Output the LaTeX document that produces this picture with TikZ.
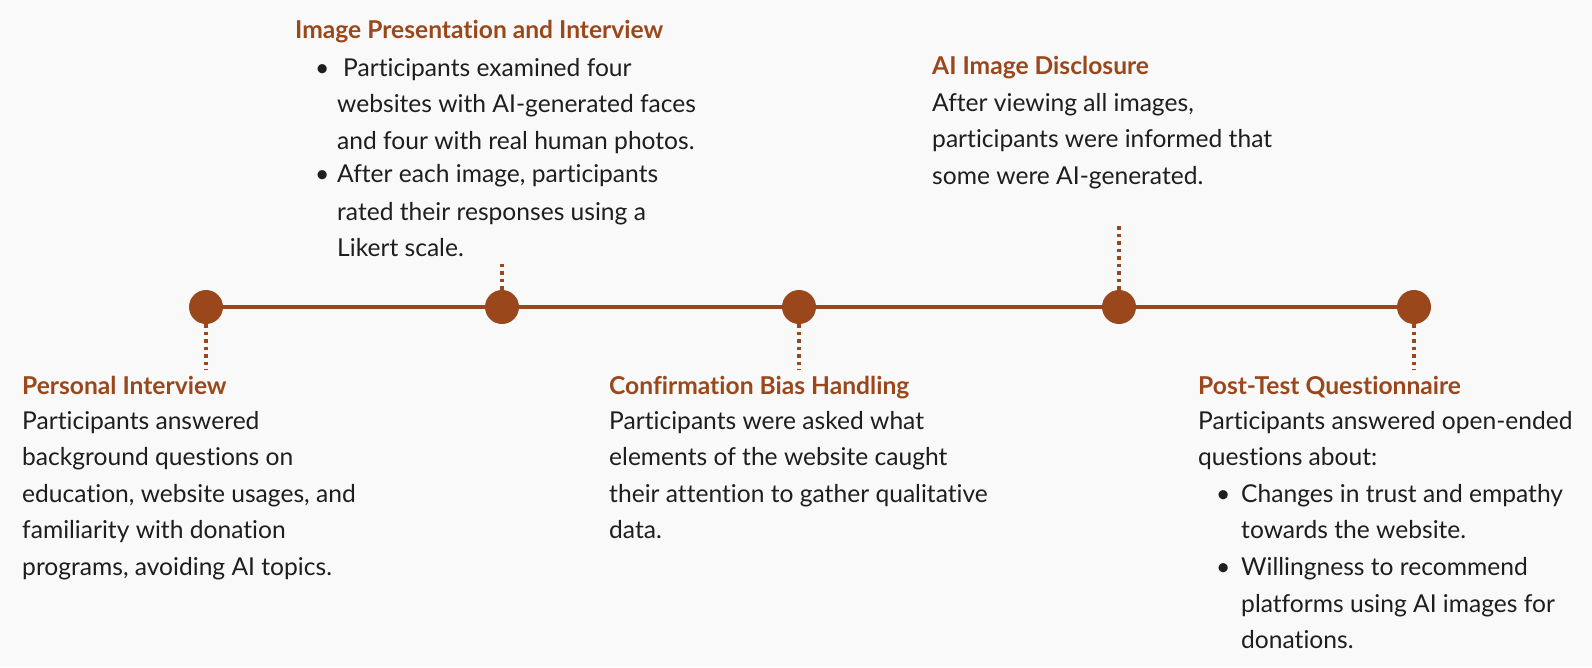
\documentclass[tikz,border=0pt]{standalone}
\usepackage{fontspec}
\setmainfont{Lato}[Ligatures=NoCommon]
\definecolor{brn}{HTML}{9A481B}
\definecolor{ink}{HTML}{1E1E1E}
\definecolor{bg}{HTML}{F9F9F9}
\tikzset{
  ttl/.style={anchor=base west, inner sep=0pt, font=\bfseries\fontsize{24.6}{28}\selectfont, text=brn},
  txt/.style={anchor=base west, inner sep=0pt, font=\fontsize{24.6}{28}\selectfont, text=ink},
  dot/.style={circle, fill=brn, minimum size=34pt, inner sep=0pt},
  tline/.style={draw=brn, line width=4pt},
  dotline/.style={draw=brn, line width=3.5pt, dash pattern=on 3.5pt off 4pt},
}
\begin{document}
\begin{tikzpicture}[x=1pt,y=-1pt]
\fill[bg] (0,0) rectangle (1592,667);
\useasboundingbox (0,0) rectangle (1592,667);
% timeline
\node[dot] (d1) at (206,307) {};
\node[dot] (d2) at (502,307) {};
\node[dot] (d3) at (799,307) {};
\node[dot] (d4) at (1119,307) {};
\node[dot] (d5) at (1414,307) {};
\draw[tline] (d1) -- (d2) -- (d3) -- (d4) -- (d5);
\coordinate (c1) at (206,370);
\coordinate (c2) at (502,262);
\coordinate (c3) at (799,370);
\coordinate (c4) at (1119,223);
\coordinate (c5) at (1414,370);
\draw[dotline] (d1.south) -- (c1);
\draw[dotline] (d2.north) -- (c2);
\draw[dotline] (d3.south) -- (c3);
\draw[dotline] (d4.north) -- (c4);
\draw[dotline] (d5.south) -- (c5);
% Personal Interview
\node[ttl] (t1) at (22,394) {Personal Interview};
\foreach \s [count=\i from 0] in {Participants answered, background questions on, {education, website usages, and}, familiarity with donation, {programs, avoiding AI topics.}}
  \node[txt] (p1-\i) at (22,429+36.6*\i) {\s};
% Image Presentation and Interview
\node[ttl] (t2) at (295,38) {Image Presentation and Interview};
\node[txt] (u2-a) at (315,76) {•};
\node[txt] (u2-b) at (315,182.6) {•};
\node[txt] (p2-0) at (343,76) {Participants examined four};
\node[txt] (p2-1) at (337,112.6) {websites with AI-generated faces};
\node[txt] (p2-2) at (337,149.2) {and four with real human photos.};
\node[txt] (p2-3) at (337,182.6) {After each image, participants};
\node[txt] (p2-4) at (337,220) {rated their responses using a};
\node[txt] (p2-5) at (337,256.6) {Likert scale.};
% Confirmation Bias Handling
\node[ttl] (t3) at (609,394) {Confirmation Bias Handling};
\foreach \s [count=\i from 0] in {Participants were asked what, elements of the website caught, their attention to gather qualitative, data.}
  \node[txt] (p3-\i) at (609,429+36.6*\i) {\s};
% AI Image Disclosure
\node[ttl] (t4) at (932,74) {AI Image Disclosure};
\foreach \s [count=\i from 0] in {{After viewing all images,}, participants were informed that, some were AI-generated.}
  \node[txt] (p4-\i) at (932,111+36.6*\i) {\s};
% Post-Test Questionnaire
\node[ttl] (t5) at (1198,394) {Post-Test Questionnaire};
\node[txt] (p5-0) at (1198,429) {Participants answered open-ended};
\node[txt] (p5-1) at (1198,465.6) {questions about:};
\node[txt] (u5-a) at (1216,502.2) {•};
\node[txt] (u5-b) at (1216,575.4) {•};
\node[txt] (p5-2) at (1241,502.2) {Changes in trust and empathy};
\node[txt] (p5-3) at (1241,538.8) {towards the website.};
\node[txt] (p5-4) at (1241,575.4) {Willingness to recommend};
\node[txt] (p5-5) at (1241,612) {platforms using AI images for};
\node[txt] (p5-6) at (1241,648.6) {donations.};
\end{tikzpicture}
\end{document}
